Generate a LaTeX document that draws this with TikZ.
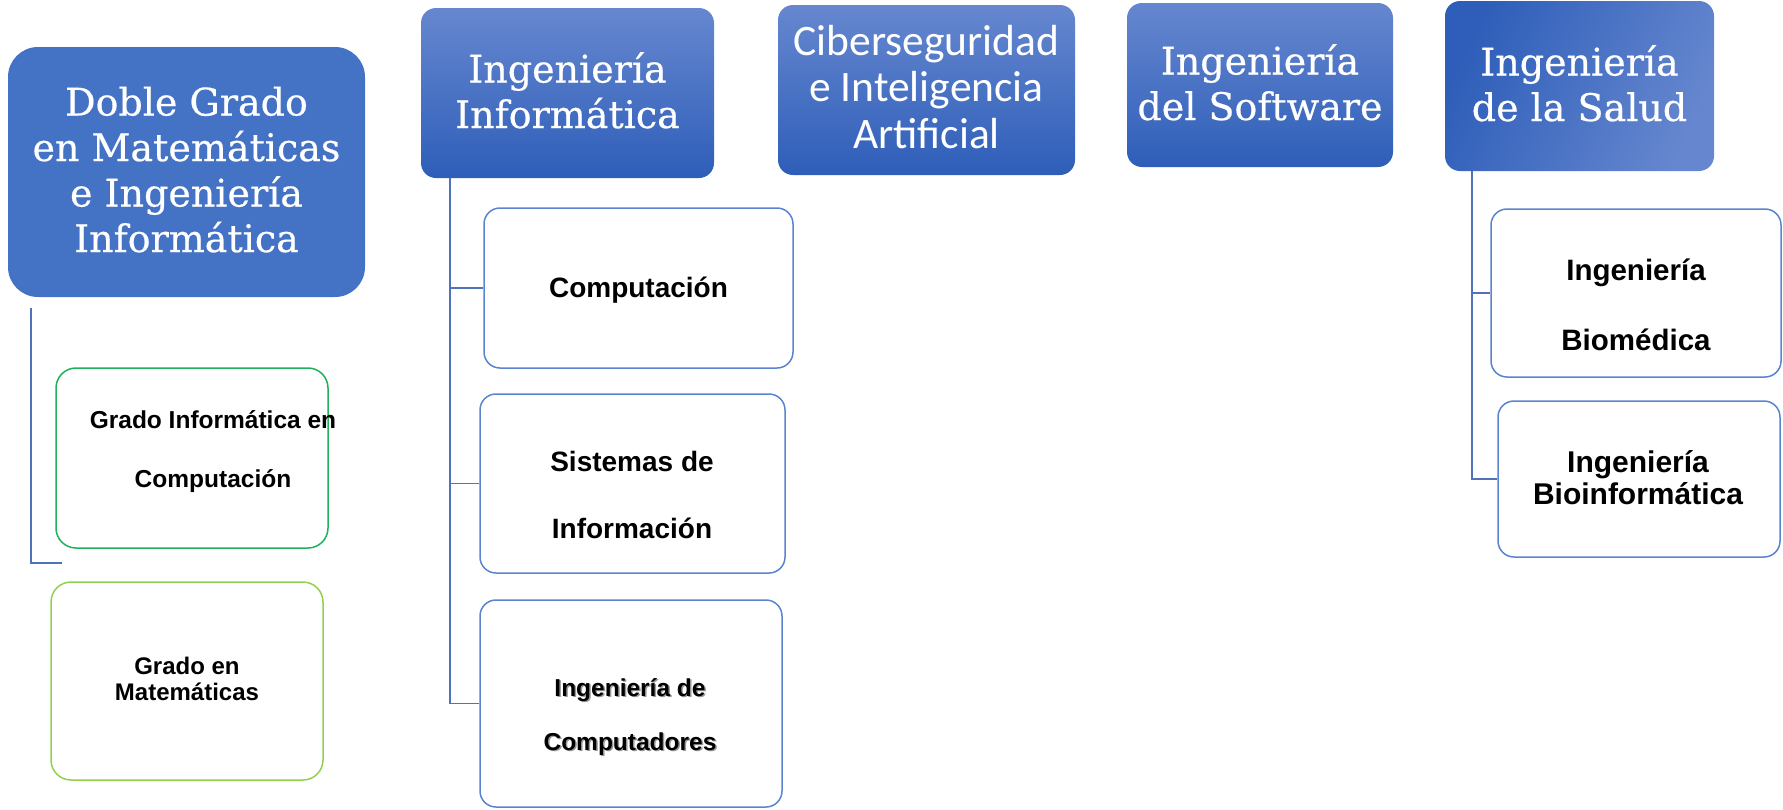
\documentclass[tikz,border=0pt]{standalone}
\usepackage{fontspec}
\setmainfont{Liberation Sans}
\newfontfamily\slab{DejaVu Serif}[FakeBold=0.5]
\newfontfamily\cali{Carlito}
\definecolor{hdtop}{HTML}{6687CF}
\definecolor{hdbot}{HTML}{2E5EB9}
\definecolor{flatblue}{HTML}{4472C4}
\definecolor{childline}{HTML}{5B84D0}
\definecolor{connline}{HTML}{4F72BA}
\definecolor{gdark}{HTML}{1FB25A}
\definecolor{glight}{HTML}{92D050}
\begin{document}
\begin{tikzpicture}[x=1pt,y=-1pt,
  head/.style={rounded corners=15pt, draw=none, top color=hdtop, bottom color=hdbot, inner sep=0pt},
  child/.style={rounded corners=16pt, draw=childline, line width=1.5pt, fill=white, inner sep=0pt},
  gbox/.style={rounded corners=20pt, line width=1.5pt, fill=white, inner sep=0pt},
  headtext/.style={text=white, font=\slab\fontsize{38}{45.5}\selectfont, align=center, anchor=base, inner sep=0pt},
  childtext/.style={text=black, align=center, anchor=base, inner sep=0pt},
  conn/.style={draw=connline, line width=1.5pt}
]
\useasboundingbox (0,0) rectangle (1783,809);

% header boxes
\node[rounded corners=30pt, fill=flatblue, inner sep=0pt, minimum width=357pt, minimum height=250pt] (doble) at (186.5,172) {};
\node[head, minimum width=293pt, minimum height=170pt] (ii) at (567.5,93) {};
\node[head, minimum width=297pt, minimum height=170pt] (cib) at (926.5,90) {};
\node[head, minimum width=266pt, minimum height=164pt] (sw) at (1260,85) {};
\node[rounded corners=15pt, inner sep=0pt, top color=hdbot, bottom color=hdtop, shading angle=65, minimum width=269pt, minimum height=170pt] (sal) at (1579.5,86) {};

% header texts (anchor = baseline of the last line)
\node[headtext] (dobleT) at (186.5,252) {Doble Grado\\en Matemáticas\\e Ingeniería\\Informática};
\node[headtext] (iiT) at (567.5,128) {Ingeniería\\Informática};
\node[headtext, font=\cali\fontsize{43.5}{46.5}\selectfont] (cibT) at (926.5,148) {Ciberseguridad\\e Inteligencia\\Artificial};
\node[headtext] (swT) at (1260,120) {Ingeniería\\del Software};
\node[headtext] (salT) at (1579.5,121) {Ingeniería\\de la Salud};

% child boxes
\node[child, minimum width=309pt, minimum height=160pt] (comp) at (638.5,288) {};
\node[child, minimum width=305pt, minimum height=179pt] (sis) at (632.5,483.5) {};
\node[child, minimum width=302pt, minimum height=207pt] (ic) at (631,703.5) {};
\node[child, minimum width=290pt, minimum height=168pt] (bio) at (1636,293) {};
\node[child, minimum width=282pt, minimum height=156pt] (binf) at (1639,479) {};
\node[gbox, draw=gdark, minimum width=272pt, minimum height=180pt] (ginf) at (192,458) {};
\node[gbox, draw=glight, minimum width=272pt, minimum height=198pt] (gmat) at (187,681) {};

% child texts (anchor = baseline of the last line)
\node[childtext, font=\bfseries\fontsize{28}{34}\selectfont] (compT) at (638.5,297) {Computación};
\node[childtext, font=\bfseries\fontsize{28}{67}\selectfont] (sisT) at (632,538) {Sistemas de\\Información};
\node[childtext, text=black!40, font=\bfseries\fontsize{24.5}{54}\selectfont] (icS) at (631.5,751.5) {Ingeniería de\\Computadores};
\node[childtext, font=\bfseries\fontsize{24.5}{54}\selectfont] (icT) at (630,750) {Ingeniería de\\Computadores};
\node[childtext, font=\bfseries\fontsize{29.5}{70}\selectfont] (bioT) at (1636,350) {Ingeniería\\Biomédica};
\node[childtext, font=\bfseries\fontsize{30}{32}\selectfont] (binfT) at (1638,504) {Ingeniería\\Bioinformática};
\node[childtext, font=\bfseries\fontsize{24.5}{59}\selectfont] (ginfT) at (213,487) {Grado Informática en\\Computación};
\node[childtext, font=\bfseries\fontsize{24}{25.5}\selectfont] (gmatT) at (187,700) {Grado en\\Matemáticas};

% connectors
\coordinate (dTop) at (31,308);
\coordinate (dEnd) at (62,563);
\draw[conn] (dTop) |- (dEnd);

\coordinate (iiTop) at (450,178);
\draw[conn] (iiTop) |- (ic.west);
\draw[conn] (iiTop |- comp.west) -- (comp.west);
\draw[conn] (iiTop |- sis.west) -- (sis.west);

\coordinate (salTop) at (1472,171);
\draw[conn] (salTop) |- (binf.west);
\draw[conn] (salTop |- bio.west) -- (bio.west);
\end{tikzpicture}
\end{document}
